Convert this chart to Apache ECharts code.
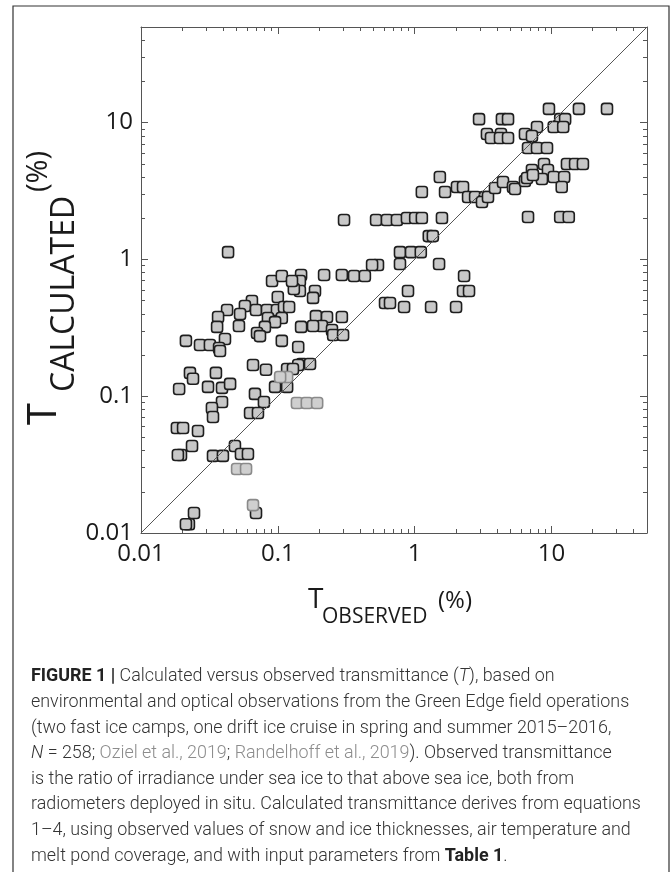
<!DOCTYPE html>
<html><head><meta charset="utf-8">
<script src="https://cdn.jsdelivr.net/npm/echarts@6/dist/echarts.min.js"></script>
<style>html,body{margin:0;padding:0;background:#fff}#c{width:672px;height:872px}</style>
</head><body><div id="c"></div>
<script>
// ---------- data ----------
const axisRange = [0.01, 50];
const majorTicks = [0.01, 0.1, 1, 10];
const tickLabels = ['0.01', '0.1', '1', '10'];
const minorMultipliers = [2, 3, 4, 5, 6, 7, 8, 9];

// [T observed (%), T calculated (%)]
const pointsMain = [
  [9.6,12.6],[15.9,12.6],[25.5,12.6],[2.96,10.6],[4.35,10.6],[4.82,10.6],[11.6,10.6],[12.6,10.6],
  [7.85,9.29],[10.4,9.29],[12.2,9.29],[3.38,8.26],[4.28,8.26],[3.62,7.71],[4.21,7.71],[4.82,7.71],
  [6.41,8.26],[7.21,7.98],[6.75,6.52],[7.85,6.52],[9.29,6.52],[8.83,4.98],[13.0,4.98],[14.9,4.98],
  [17.0,4.98],[1.53,4.00],[7.21,4.50],[9.44,4.50],[8.53,3.87],[10.4,4.00],[12.4,4.00],[11.9,3.38],
  [1.13,3.11],[1.67,3.11],[2.04,3.38],[2.26,3.38],[2.46,2.86],[2.77,2.86],[3.27,2.86],[3.11,2.63],
  [3.44,2.86],[3.87,3.33],[4.43,3.68],[5.24,3.38],[5.42,3.27],[6.41,3.74],[6.64,3.94],[7.33,4.14],
  [6.75,2.04],[11.6,2.04],[13.4,2.04],
  [0.305,1.94],[0.523,1.94],[0.628,1.94],[0.743,1.94],[0.879,2.01],[1.01,2.01],[1.13,2.01],[1.585,2.01],
  [1.27,1.48],[1.36,1.48],[0.782,1.13],[0.942,1.13],[1.11,1.13],[1.51,0.925],[0.782,0.925],[0.540,0.910],
  [0.489,0.910],[0.218,0.769],[0.294,0.769],[0.361,0.757],[0.433,0.757],[0.148,0.769],[0.145,0.695],
  [0.895,0.588],[2.30,0.757],[2.26,0.588],[2.50,0.588],[0.608,0.480],[0.661,0.480],[0.838,0.449],
  [1.32,0.449],[2.01,0.449],[0.187,0.588],[0.181,0.523],[0.145,0.588],[0.131,0.608],[0.190,0.385],
  [0.229,0.379],[0.294,0.379],[0.210,0.326],[0.181,0.326],[0.249,0.305],[0.254,0.280],[0.300,0.280],
  [0.148,0.321],[0.141,0.229],[0.150,0.172],[0.172,0.172],
  [0.0433,1.13],[0.0908,0.695],[0.107,0.757],[0.127,0.695],[0.100,0.531],[0.0647,0.497],[0.0575,0.456],
  [0.0693,0.427],[0.0530,0.399],[0.0426,0.427],[0.0834,0.427],[0.0986,0.427],[0.111,0.449],[0.121,0.449],
  [0.0847,0.373],[0.107,0.373],[0.0955,0.348],[0.0805,0.321],[0.0366,0.379],[0.0360,0.321],[0.0520,0.326],
  [0.0705,0.290],[0.0741,0.275],[0.0411,0.262],[0.0213,0.254],[0.0270,0.237],[0.0319,0.237],[0.0372,0.225],
  [0.0378,0.214],[0.107,0.254],[0.0659,0.169],[0.0820,0.156],[0.0228,0.148],[0.0240,0.134],[0.0353,0.148],
  [0.0190,0.113],[0.0309,0.117],[0.0391,0.115],[0.0448,0.123],[0.0681,0.104],[0.0955,0.117],[0.117,0.117],
  [0.141,0.169],[0.117,0.158],[0.129,0.158],[0.0792,0.0908],[0.0391,0.0908],[0.0330,0.0820],[0.0336,0.0705],
  [0.0627,0.0753],[0.0716,0.0753],[0.0183,0.0586],[0.0203,0.0586],[0.0261,0.0557],[0.0236,0.0433],
  [0.0196,0.0372],[0.0186,0.0372],[0.0336,0.0366],[0.0397,0.0366],[0.0486,0.0433],[0.0538,0.0378],
  [0.0605,0.0378],[0.0693,0.0140],[0.0244,0.0140],[0.0224,0.0116],[0.0213,0.0116]
];
const pointsLight = [
  [0.117,0.138],[0.104,0.138],[0.138,0.0891],[0.163,0.0891],[0.194,0.0891],
  [0.0504,0.0294],[0.0586,0.0294],[0.0659,0.0160]
];

const xTitle = ['T', 'OBSERVED', '(%)'];
const yTitle = ['T', 'CALCULATED', '(%)'];
const captionLines = [
  '{b|FIGURE 1 |} Calculated versus observed transmittance ({i|T}), based on',
  'environmental and optical observations from the Green Edge field operations',
  '(two fast ice camps, one drift ice cruise in spring and summer 2015\u20132016,',
  '{i|N} = 258; {g|Oziel et al., 2019}; {g|Randelhoff et al., 2019}). Observed transmittance',
  'is the ratio of irradiance under sea ice to that above sea ice, both from',
  'radiometers deployed in situ. Calculated transmittance derives from equations',
  '1\u20134, using observed values of snow and ice thicknesses, air temperature and',
  'melt pond coverage, and with input parameters from {b|Table 1}.'
];

// ---------- chart ----------
const chart = echarts.init(document.getElementById('c'), null, {renderer: 'canvas'});
const L = Math.log10;
const expMin = L(axisRange[0]), expMax = L(axisRange[1]);
const majorExp = majorTicks.map(L);
const minorExp = [];
majorTicks.forEach(m => minorMultipliers.forEach(k => { const v = L(m * k); if (v < expMax) minorExp.push(v); }));

const AX = '#555';
const FONT = '"Open Sans", sans-serif';
const CAPF = 'Roboto, "Liberation Sans", sans-serif';
const CAPS = 17.9;

function labelFmt(v) {
  const i = majorTicks.findIndex(m => Math.abs(m - v) / m < 1e-6);
  return i >= 0 ? tickLabels[i] : '';
}
function tickAxis(pos, values, len, showLine) {
  return {
    type: 'value', position: pos, min: expMin, max: expMax, silent: true,
    axisLine: {show: showLine, onZero: false, lineStyle: {color: AX, width: 1}},
    axisTick: {show: true, inside: true, length: len, customValues: values, lineStyle: {color: AX, width: 1}},
    axisLabel: {show: false}, splitLine: {show: false}
  };
}
function mainAxis(pos, align) {
  return {
    type: 'log', logBase: 10, min: axisRange[0], max: axisRange[1], position: pos,
    axisLine: {show: true, onZero: false, lineStyle: {color: AX, width: 1}},
    axisTick: {show: false}, splitLine: {show: false}, minorTick: {show: false},
    axisLabel: {formatter: labelFmt, fontSize: 24, fontFamily: FONT, color: '#1a1a1a',
      margin: pos === 'bottom' ? 9 : 8, align: align}
  };
}

const capRich = {
  b: {fontSize: CAPS, fontFamily: CAPF, fontWeight: 'bold', fill: '#222'},
  i: {fontSize: CAPS, fontFamily: CAPF, fontWeight: 300, fontStyle: 'italic', fill: '#333'},
  g: {fontSize: CAPS, fontFamily: CAPF, fontWeight: 300, fill: '#8c8c8c'}
};
const caption = captionLines.map((t, i) => ({
  type: 'text', x: 31, y: 677 + i * 25.6, z: 10,
  style: {text: t, fontSize: CAPS, fontFamily: CAPF, fontWeight: 300, fill: '#333', verticalAlign: 'middle', rich: capRich}
}));

const option = {
  animation: false,
  backgroundColor: '#fff',
  grid: {left: 141, right: 25, top: 27, bottom: 339, containLabel: false, outerBoundsMode: 'none'},
  xAxis: [
    mainAxis('bottom'),
    tickAxis('bottom', majorExp, 7, false),
    tickAxis('bottom', minorExp, 4, false),
    tickAxis('top', majorExp, 7, true),
    tickAxis('top', minorExp, 4, false)
  ],
  yAxis: [
    mainAxis('left', 'right'),
    tickAxis('left', majorExp, 7, false),
    tickAxis('left', minorExp, 4, false),
    tickAxis('right', majorExp, 7, true),
    tickAxis('right', minorExp, 4, false)
  ],
  series: [
    {type: 'scatter', data: pointsMain, symbol: 'roundRect', symbolSize: 11, z: 2,
      itemStyle: {color: '#c8c8c8', borderColor: '#1e1e1e', borderWidth: 1.6, opacity: 1}},
    {type: 'scatter', data: pointsLight, symbol: 'roundRect', symbolSize: 11, z: 2,
      itemStyle: {color: '#cfcfcf', borderColor: '#8a8a8a', borderWidth: 1.6, opacity: 1}},
    {type: 'line', data: [[axisRange[0], axisRange[0]], [axisRange[1], axisRange[1]]], z: 3,
      showSymbol: false, silent: true, lineStyle: {color: '#555', width: 1}}
  ],
  graphic: [
    {type: 'rect', shape: {x: 13, y: 6, width: 656, height: 900}, z: 0, silent: true,
      style: {fill: 'none', stroke: '#333', lineWidth: 1.2}},
    {type: 'text', x: 308, y: 600, style: {text: xTitle[0], fontSize: 28, fontFamily: FONT, fill: '#1a1a1a', verticalAlign: 'middle'}},
    {type: 'text', x: 322, y: 617.5, style: {text: xTitle[1], fontSize: 21, fontFamily: FONT, fill: '#1a1a1a', verticalAlign: 'middle'}},
    {type: 'text', x: 438, y: 601, style: {text: xTitle[2], fontSize: 24, fontFamily: FONT, fill: '#1a1a1a', verticalAlign: 'middle'}},
    {type: 'group', x: 0, y: 0, rotation: Math.PI / 2, children: [
      {type: 'text', x: -425, y: 45, style: {text: yTitle[0], fontSize: 40, fontFamily: FONT, fill: '#1a1a1a', verticalAlign: 'middle'}},
      {type: 'text', x: -392, y: 65, style: {text: yTitle[1], fontSize: 32, fontFamily: FONT, fill: '#1a1a1a', verticalAlign: 'middle'}},
      {type: 'text', x: -192, y: 39, style: {text: yTitle[2], fontSize: 29, fontFamily: FONT, fill: '#1a1a1a', verticalAlign: 'middle'}}
    ]}
  ].concat(caption)
};
chart.setOption(option);
</script></body></html>
